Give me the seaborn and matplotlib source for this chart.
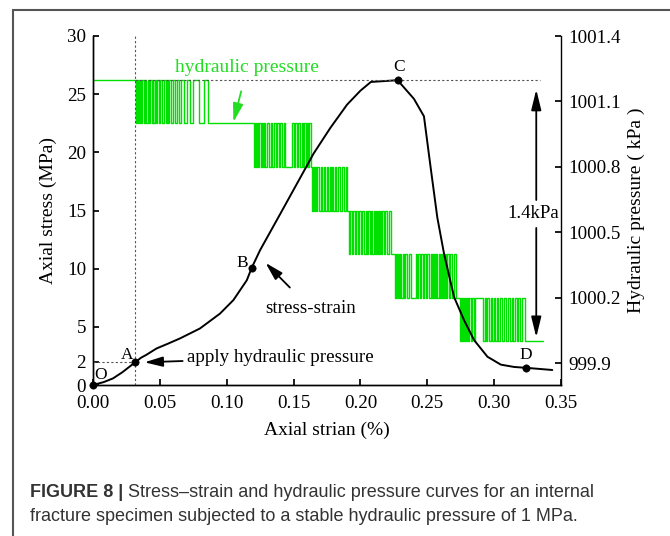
"""
Stress-strain and hydraulic pressure curves (Figure 8 recreation)
"""

import matplotlib
matplotlib.use("Agg")
import matplotlib.pyplot as plt
import seaborn as sns
from matplotlib.patches import Rectangle

# ─── Data ───────────────────────────────────────────────────────────────────
# stress-strain curve
strain = [0.000, 0.008, 0.015, 0.022, 0.0315, 0.036, 0.040, 0.0475, 0.056,
          0.065, 0.080, 0.095, 0.105, 0.115, 0.1188, 0.125, 0.140, 0.1525,
          0.165, 0.1775, 0.190, 0.200, 0.2078, 0.2278, 0.240, 0.2475, 0.2525,
          0.2575, 0.2625, 0.270, 0.2775, 0.285, 0.295, 0.305, 0.315, 0.3235,
          0.3435]
stress = [0.00, 0.25, 0.57, 1.10, 1.95, 2.35, 2.60, 3.14, 3.55,
          4.00, 4.86, 6.14, 7.30, 9.00, 10.10, 11.60, 14.70, 17.30,
          19.90, 22.10, 24.10, 25.30, 26.05, 26.20, 24.60, 23.10, 18.70,
          14.40, 11.30, 7.57, 5.57, 3.86, 2.43, 1.75, 1.55, 1.48,
          1.29]

key_names = ["O", "A", "B", "C", "D"]
key_strain = [0.0, 0.0315, 0.1188, 0.2278, 0.3235]
key_stress = [0.0, 1.95, 10.10, 26.20, 1.48]

# hydraulic pressure signal (kPa): flat level, then bands toggling between two levels
hp_levels = [1001.2, 1001.0, 1000.8, 1000.6, 1000.4, 1000.2, 1000.0]
hp_end = 0.3365
band_ends = [0.0902, 0.1628, 0.1900, 0.2228, 0.2740, 0.3228]
band_switches = [
    [0.0318, 0.0324, 0.0330, 0.0336, 0.0342, 0.0350, 0.0358, 0.0368, 0.0380,
     0.0390, 0.0400, 0.0410, 0.0418, 0.0428, 0.0440, 0.0446, 0.0452, 0.0460,
     0.0470, 0.0480, 0.0492, 0.0500, 0.0515, 0.0530, 0.0545, 0.0553, 0.0560,
     0.0570, 0.0585, 0.0600, 0.0612, 0.0625, 0.0640, 0.0660, 0.0680, 0.0700,
     0.0725, 0.0750, 0.0790, 0.0830, 0.0860],
    [0.1205, 0.1212, 0.1220, 0.1228, 0.1236, 0.1245, 0.1255, 0.1265, 0.1274,
     0.1282, 0.1290, 0.1305, 0.1318, 0.1330, 0.1342, 0.1355, 0.1365, 0.1378,
     0.1390, 0.1400, 0.1412, 0.1425, 0.1438, 0.1490, 0.1500, 0.1510, 0.1522,
     0.1535, 0.1548, 0.1560, 0.1568, 0.1575, 0.1590, 0.1598, 0.1605, 0.1615],
    [0.1635, 0.1645, 0.1655, 0.1662, 0.1668, 0.1678, 0.1690, 0.1702, 0.1712,
     0.1725, 0.1738, 0.1748, 0.1760, 0.1772, 0.1780, 0.1785, 0.1795, 0.1808,
     0.1820, 0.1835, 0.1848, 0.1860, 0.1875, 0.1890],
    [0.1915, 0.1925, 0.1935, 0.1948, 0.1958, 0.1970, 0.1982, 0.1992, 0.2005,
     0.2015, 0.2028, 0.2038, 0.2050, 0.2060, 0.2070, 0.2080, 0.2090, 0.2098,
     0.2106, 0.2115, 0.2125, 0.2132, 0.2140, 0.2148, 0.2156, 0.2165, 0.2175,
     0.2185, 0.2195, 0.2210],
    [0.2262, 0.2268, 0.2275, 0.2282, 0.2290, 0.2298, 0.2306, 0.2315, 0.2325,
     0.2335, 0.2345, 0.2360, 0.2375, 0.2415, 0.2425, 0.2432, 0.2442, 0.2452,
     0.2465, 0.2475, 0.2488, 0.2500, 0.2512, 0.2525, 0.2538, 0.2545, 0.2550,
     0.2556, 0.2562, 0.2568, 0.2576, 0.2584, 0.2592, 0.2600, 0.2608, 0.2616,
     0.2624, 0.2632, 0.2640, 0.2650, 0.2660, 0.2672, 0.2685, 0.2700, 0.2718],
    [0.2745, 0.2752, 0.2760, 0.2767, 0.2775, 0.2782, 0.2790, 0.2797, 0.2805,
     0.2815, 0.2825, 0.2835, 0.2848, 0.2860, 0.2918, 0.2928, 0.2940, 0.2950,
     0.2962, 0.2975, 0.2985, 0.2998, 0.3010, 0.3020, 0.3032, 0.3045, 0.3060,
     0.3072, 0.3085, 0.3100, 0.3115, 0.3130, 0.3142, 0.3155, 0.3168, 0.3180,
     0.3195, 0.3210],
]

x_ticks = [0.00, 0.05, 0.10, 0.15, 0.20, 0.25, 0.30, 0.35]
y_ticks = [0, 2, 5, 10, 15, 20, 25, 30]
y2_ticks = [999.9, 1000.2, 1000.5, 1000.8, 1001.1, 1001.4]

# ─── Build the step signal ──────────────────────────────────────────────────
hp_x = [0.0]
hp_y = [hp_levels[0]]
for k, (sw, end) in enumerate(zip(band_switches, band_ends)):
    hi, lo = hp_levels[k], hp_levels[k + 1]
    cur = hi
    for t in sw:
        cur = lo if cur == hi else hi
        hp_x.append(t)
        hp_y.append(cur)
    hp_x.append(end)
    hp_y.append(lo)
hp_x.append(hp_end)
hp_y.append(hp_levels[-1])

# ─── Style ──────────────────────────────────────────────────────────────────
sns.set_theme(style="ticks")
plt.rcParams.update({
    "font.family": ["Liberation Serif", "DejaVu Serif"],
    "font.size": 13.7,
    "axes.labelsize": 14,
    "xtick.labelsize": 13.7,
    "ytick.labelsize": 13.7,
    "axes.linewidth": 1.0,
    "axes.edgecolor": "black",
    "axes.labelcolor": "black",
    "xtick.direction": "in",
    "ytick.direction": "in",
    "xtick.major.size": 4.5,
    "ytick.major.size": 4.5,
    "xtick.major.pad": 7.2,
    "ytick.major.pad": 5,
    "xtick.color": "black",
    "ytick.color": "black",
    "text.color": "black",
})

GREEN = "#00e000"
GREEN_TXT = "#22dd22"
DASH = "#555555"
CAP = "#333333"

fig = plt.figure(figsize=(6.7, 5.36), dpi=100)
ax = fig.add_axes([93 / 670, 1 - 385 / 536, (561 - 93) / 670, (385 - 36) / 536])
ax2 = ax.twinx()

# green hydraulic pressure on the right axis
sns.lineplot(x=hp_x, y=hp_y, ax=ax2, color=GREEN, lw=1.0, sort=False,
             estimator=None, drawstyle="steps-post")
ax2.set_ylim(999.8, 1001.4)
ax2.set_yticks(y2_ticks)
ax2.set_yticklabels([f"{v:.1f}" for v in y2_ticks])
ax2.set_ylabel("Hydraulic pressure ( kPa )", labelpad=5)

# black stress-strain on the left axis, drawn above the green one
ax.set_zorder(ax2.get_zorder() + 1)
ax.patch.set_visible(False)
sns.lineplot(x=strain, y=stress, ax=ax, color="black", lw=1.4, sort=False,
             estimator=None)
sns.scatterplot(x=key_strain, y=key_stress, ax=ax, color="black", s=28,
                edgecolor="black", zorder=5, clip_on=False)

# guide lines
ax.axvline(key_strain[1], ymin=0, ymax=1, color=DASH, lw=0.8, ls=(0, (2, 2)))
ax.hlines(key_stress[1], 0, key_strain[1], color=DASH, lw=0.8, ls=(0, (2, 2)))
ax.hlines(key_stress[3], key_strain[1], 0.334, color=DASH, lw=0.8, ls=(0, (2, 2)))

ax.set_xlim(0, 0.35)
ax.set_ylim(0, 30)
ax.set_xticks(x_ticks)
ax.set_xticklabels([f"{v:.2f}" for v in x_ticks])
ax.set_yticks(y_ticks)
ax.set_xlabel("Axial strian (%)", labelpad=7)
ax.set_ylabel("Axial stress (MPa)", labelpad=7)

for a in (ax, ax2):
    a.spines["top"].set_visible(False)
ax.spines["right"].set_visible(False)

# point labels
label_pos = {"O": (0.0058, 0.85), "A": (0.0255, 2.6), "B": (0.1113, 10.5),
             "C": (0.2288, 27.3), "D": (0.3240, 2.6)}
for name in key_names:
    ax.text(*label_pos[name], name, ha="center", va="center", fontsize=12.5)

# annotations
arrow = "-|>,head_length=0.8,head_width=0.22"
ax.annotate("apply hydraulic pressure", xy=(0.0385, 1.95), xytext=(0.0705, 2.35),
            ha="left", va="center", fontsize=13.7,
            arrowprops=dict(arrowstyle=arrow, color="black", lw=1.3,
                            shrinkA=1, shrinkB=0))
ax.annotate("stress-strain", xy=(0.129, 10.5), xytext=(0.1625, 6.6),
            ha="center", va="center", fontsize=13.7,
            arrowprops=dict(arrowstyle=arrow, color="black", lw=1.3,
                            shrinkA=9, shrinkB=0))
ax.annotate("hydraulic pressure", xy=(0.105, 22.6), xytext=(0.1153, 27.3),
            ha="center", va="center", fontsize=14, color=GREEN_TXT,
            arrowprops=dict(arrowstyle=arrow, color=GREEN_TXT, lw=1.3,
                            shrinkA=9, shrinkB=0))
ax.text(0.3293, 14.75, "1.4kPa", ha="center", va="center", fontsize=13.5)
for y0, y1 in [(15.9, 25.4), (13.5, 4.1)]:
    ax.annotate("", xy=(0.3315, y1), xytext=(0.3315, y0),
                arrowprops=dict(arrowstyle="-|>,head_length=0.9,head_width=0.22",
                                color="black", lw=1.3, shrinkA=0, shrinkB=0))

# outer frame
fig.add_artist(Rectangle((13 / 670, -0.05), 1.0, 1 - 10 / 536 + 0.05,
                         transform=fig.transFigure, fill=False,
                         edgecolor="#555555", lw=1.5))

# caption
cap = fig.text(30 / 670, 1 - 497 / 536, "FIGURE 8 |", family=["Liberation Sans"],
               weight="bold", fontsize=13, va="baseline", color=CAP)
ax.annotate(" Stress\u2013strain and hydraulic pressure curves for an internal",
            xy=(1, 0), xycoords=cap, va="bottom", ha="left",
            family=["Liberation Sans"], fontsize=13, color=CAP,
            annotation_clip=False)
fig.text(30 / 670, 1 - 521 / 536,
         "fracture specimen subjected to a stable hydraulic pressure of 1 MPa.",
         family=["Liberation Sans"], fontsize=13, va="baseline", color=CAP)

fig.savefig("out.png", dpi=100)
plt.close(fig)
